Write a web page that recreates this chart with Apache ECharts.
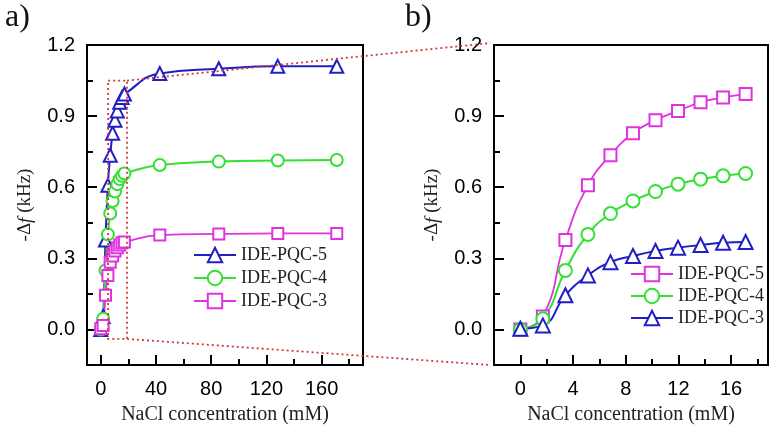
<!DOCTYPE html>
<html>
<head>
<meta charset="utf-8">
<script src="https://cdn.jsdelivr.net/npm/echarts@6/dist/echarts.min.js"></script>
<style>
  html, body { margin: 0; padding: 0; background: #fff; }
  #chart { width: 776px; height: 430px; }
</style>
</head>
<body>
<div id="chart"></div>
<script>
// NaCl concentrations (mM)
const concLow = [0, 1.71, 3.42, 5.13, 6.84, 8.55, 10.26, 11.97, 13.68, 15.39, 17.1];
const concHigh = [42.75, 85.5, 128.25, 171];

// -Δf (kHz)
const pqc5Low = [0, 0.055, 0.377, 0.608, 0.735, 0.828, 0.883, 0.922, 0.958, 0.979, 0.993];
const pqc5High = [1.08, 1.10, 1.11, 1.11];
const pqc4Low = [0, 0.045, 0.249, 0.401, 0.489, 0.542, 0.582, 0.613, 0.634, 0.648, 0.658];
const pqc4High = [0.694, 0.708, 0.713, 0.715];
const pqc3Low = [0.003, 0.017, 0.144, 0.228, 0.284, 0.31, 0.331, 0.345, 0.356, 0.366, 0.369];
const pqc3High = [0.398, 0.403, 0.405, 0.405];

// tick labels
const xTicksA = [0, 40, 80, 120, 160];
const xMinorA = [20, 60, 100, 140, 180];
const xTicksB = [0, 4, 8, 12, 16];
const xMinorB = [2, 6, 10, 14, 18];
const yTicks = [0, 0.3, 0.6, 0.9, 1.2];
const yMinor = [0.15, 0.45, 0.75, 1.05];

// zoom box drawn in panel a) : [x0, x1, y0, y1]
const zoomBox = [5.3, 19, -0.04, 1.05];

const BLUE = "#1f1fc4";
const GREEN = "#33e033";
const MAGENTA = "#e033e0";
const SANS = "Liberation Sans";
const SERIF = "Liberation Serif";

const pairs = (xs, ys) => xs.map((x, i) => [x, ys[i]]);
const full = (lo, hi) => pairs(concLow, lo).concat(pairs(concHigh, hi));

const chart = echarts.init(document.getElementById("chart"));

function xMain(grid, min, max, ticks) {
  return {
    gridIndex: grid, type: "value", min: min, max: max,
    axisLine: { show: true, onZero: false, lineStyle: { color: "#000", width: 2 } },
    axisTick: { show: true, inside: true, length: 10, customValues: ticks, lineStyle: { color: "#000", width: 2 } },
    axisLabel: { customValues: ticks, margin: 14, color: "#000", fontFamily: SANS, fontSize: 20 },
    splitLine: { show: false },
    name: "NaCl concentration (mM)",
    nameLocation: "middle",
    nameGap: 40,
    nameTextStyle: { fontFamily: SERIF, fontSize: 20, color: "#222" },
  };
}
function xMinor(grid, min, max, ticks) {
  return {
    gridIndex: grid, type: "value", min: min, max: max, position: "bottom",
    axisLine: { show: false, onZero: false },
    axisTick: { show: true, inside: true, length: 6, customValues: ticks, lineStyle: { color: "#000", width: 2 } },
    axisLabel: { show: false },
    splitLine: { show: false },
  };
}
function yMain(grid) {
  return {
    gridIndex: grid, type: "value", min: -0.15, max: 1.2,
    axisLine: { show: true, onZero: false, lineStyle: { color: "#000", width: 2 } },
    axisTick: { show: true, inside: true, length: 10, customValues: yTicks, lineStyle: { color: "#000", width: 2 } },
    axisLabel: { customValues: yTicks, margin: 12, color: "#000", fontFamily: SANS, fontSize: 20,
      formatter: (v) => v.toFixed(1) },
    splitLine: { show: false },
    name: "{n|-Δ}{i|f}{n| (kHz)}",
    nameLocation: "middle",
    nameGap: 52,
    nameTextStyle: {
      rich: {
        n: { fontFamily: SERIF, fontSize: 19, color: "#222" },
        i: { fontFamily: SERIF, fontSize: 19, fontStyle: "italic", color: "#222" },
      },
    },
  };
}
function yMinorAxis(grid) {
  return {
    gridIndex: grid, type: "value", min: -0.15, max: 1.2, position: "left",
    axisLine: { show: false, onZero: false },
    axisTick: { show: true, inside: true, length: 6, customValues: yMinor, lineStyle: { color: "#000", width: 2 } },
    axisLabel: { show: false },
    splitLine: { show: false },
  };
}

function line(name, data, color, symbol, size, xi, yi, width) {
  return {
    name: name, type: "line", data: data,
    xAxisIndex: xi, yAxisIndex: yi,
    smooth: 0.5,
    symbol: symbol, symbolSize: size,
    lineStyle: { color: color, width: width },
    itemStyle: { color: color, borderColor: color, borderWidth: 1.3 },
    z: 3,
  };
}

const legendText = { fontFamily: SERIF, fontSize: 18, color: "#222" };

const option = {
  animation: false,
  backgroundColor: "#fff",
  grid: [
    { left: 87, top: 45, width: 276, height: 320, show: true, borderColor: "#000", borderWidth: 2 },
    { left: 494, top: 45, width: 274, height: 320, show: true, borderColor: "#000", borderWidth: 2 },
  ],
  xAxis: [
    xMain(0, -10, 190, xTicksA), xMinor(0, -10, 190, xMinorA),
    xMain(1, -2, 18.8, xTicksB), xMinor(1, -2, 18.8, xMinorB),
  ],
  yAxis: [yMain(0), yMinorAxis(0), yMain(1), yMinorAxis(1)],
  legend: [
    {
      left: 188, top: 241, orient: "vertical", itemWidth: 42, itemHeight: 18, itemGap: 5,
      data: ["IDE-PQC-5", "IDE-PQC-4", "IDE-PQC-3"], textStyle: legendText,
    },
    {
      left: 625, top: 260, orient: "vertical", itemWidth: 42, itemHeight: 18, itemGap: 4,
      data: ["IDE-PQC-5 ", "IDE-PQC-4 ", "IDE-PQC-3 "], textStyle: legendText,
      formatter: (n) => n.trim(),
    },
  ],
  series: [
    line("IDE-PQC-5", full(pqc5Low, pqc5High), BLUE, "emptyTriangle", 13, 0, 0, 2),
    line("IDE-PQC-4", full(pqc4Low, pqc4High), GREEN, "emptyCircle", 12, 0, 0, 2),
    line("IDE-PQC-3", full(pqc3Low, pqc3High), MAGENTA, "emptyRect", 11, 0, 0, 1.8),
    line("IDE-PQC-5 ", pairs(concLow, pqc5Low), MAGENTA, "emptyRect", 12, 2, 2, 1.8),
    line("IDE-PQC-4 ", pairs(concLow, pqc4Low), GREEN, "emptyCircle", 13, 2, 2, 2),
    line("IDE-PQC-3 ", pairs(concLow, pqc3Low), BLUE, "emptyTriangle", 14, 2, 2, 2),
  ],
};
chart.setOption(option);

// zoom box and connecting dotted lines
const tl = chart.convertToPixel({ gridIndex: 0 }, [zoomBox[0], zoomBox[3]]);
const br = chart.convertToPixel({ gridIndex: 0 }, [zoomBox[1], zoomBox[2]]);
const rTop = chart.convertToPixel({ gridIndex: 1 }, [-2, 1.2]);
const rBot = chart.convertToPixel({ gridIndex: 1 }, [-2, -0.15]);
const dotted = { stroke: "#d03a3a", lineWidth: 1.8, lineDash: [2, 3], fill: null };

chart.setOption({
  graphic: [
    { type: "rect", shape: { x: tl[0], y: tl[1], width: br[0] - tl[0], height: br[1] - tl[1] }, style: dotted, z: 10 },
    { type: "line", shape: { x1: br[0], y1: tl[1], x2: rTop[0] - 4, y2: rTop[1] - 2 }, style: dotted, z: 10 },
    { type: "line", shape: { x1: br[0], y1: br[1], x2: rBot[0] - 4, y2: rBot[1] }, style: dotted, z: 10 },
    { type: "text", left: 5, top: 2, style: { text: "a)", fontFamily: SERIF, fontSize: 32, fill: "#111" } },
    { type: "text", left: 405, top: 2, style: { text: "b)", fontFamily: SERIF, fontSize: 32, fill: "#111" } },
  ],
});
</script>
</body>
</html>
